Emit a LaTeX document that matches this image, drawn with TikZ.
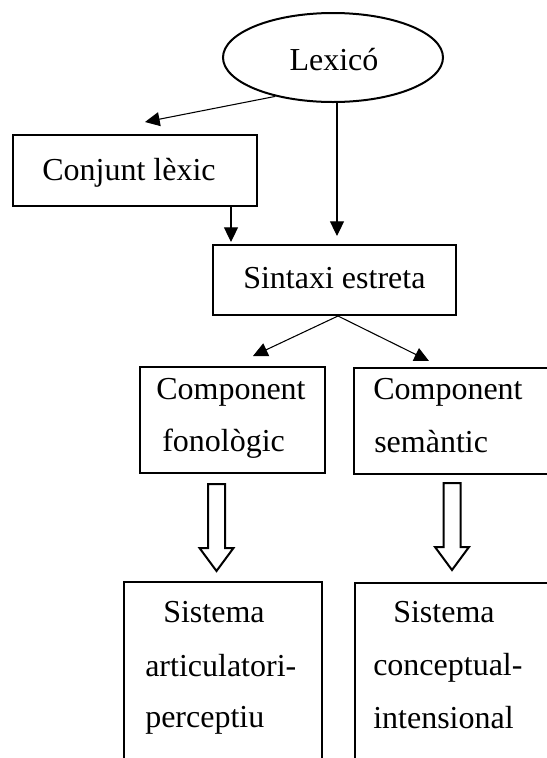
\documentclass[tikz,border=0pt]{standalone}
\usepackage{fontspec}
\setmainfont{Liberation Serif}
\usetikzlibrary{arrows.meta,calc,fit,shapes.geometric}

% hollow block arrow pointing down, #1 = centre of its top edge
\newcommand\hollowdown[1]{%
  \draw[blk] ($(#1)+(-8.5,0)$) -- ++(17,0) -- ++(0,64) -- ++(8.5,0)
    -- ++(-17,23) -- ++(-17,-23) -- ++(8.5,0) -- cycle;}

\tikzset{
  box/.style={draw, line width=1.5pt, rectangle, inner sep=0pt},
  oval/.style={draw, line width=1.5pt, ellipse, inner sep=0pt,
    minimum width=165pt, minimum height=66.75pt},
  txt/.style={inner sep=0pt, font=\fontsize{24}{28}\selectfont},
  conn/.style={line width=0.8pt, -{Triangle[length=11pt,width=10.5pt]}},
  blk/.style={line width=1.5pt, line join=miter, fill=white},
}

\begin{document}
\begin{tikzpicture}[x=0.75pt, y=-0.75pt]
  \useasboundingbox (0,0) rectangle (547,758);
  \clip (0,0) rectangle (547,758);

  % boxes
  \node[oval] (lex) at (333,57.5) {};
  \node[box, fit={(13,135) (257,206)}] (conj) {};
  \node[box, fit={(213,245) (456,315)}] (sint) {};
  \node[box, fit={(140,367) (325,473)}] (fon) {};
  \node[box, fit={(354,368) (620,474)}] (sem) {};
  \node[box, fit={(124,582) (322,820)}] (art) {};
  \node[box, fit={(355,583) (620,820)}] (con) {};

  % labels
  \node[txt, anchor=base] (lexT) at (334,70) {Lexicó};
  \node[txt, anchor=base west] (conjT) at (42,180) {Conjunt lèxic};
  \node[txt, anchor=base west] (sintT) at (243,288) {Sintaxi estreta};
  \node[txt, anchor=base west] (fonT1) at (156,399) {Component};
  \node[txt, anchor=base west] (fonT2) at (162,451) {fonològic};
  \node[txt, anchor=base west] (semT1) at (373,399) {Component};
  \node[txt, anchor=base west] (semT2) at (374,452) {semàntic};
  \node[txt, anchor=base west] (artT1) at (163,622) {Sistema};
  \node[txt, anchor=base west] (artT2) at (145,676) {articulatori-};
  \node[txt, anchor=base west] (artT3) at (145,727) {perceptiu};
  \node[txt, anchor=base west] (conT1) at (393,622) {Sistema};
  \node[txt, anchor=base west] (conT2) at (373,675) {conceptual-};
  \node[txt, anchor=base west] (conT3) at (373,728) {intensional};

  % connectors
  \draw[conn] (lex.214) -- ($(conj.north)+(10,-12)$);
  \coordinate (c1) at ($(conj.south east)+(-27,0)$);
  \draw[conn] (c1) -- ($(c1 |- sint.north)+(0,-2)$);
  \coordinate (c2) at ($(lex.south)+(4,0)$);
  \draw[conn] (c2) -- ($(c2 |- sint.north)+(0,-8)$);
  \coordinate (c3) at ($(sint.south)+(3.5,0)$);
  \draw[conn] (c3) -- ($(fon.north east)+(-73,-10)$);
  \draw[conn] (c3) -- ($(sem.north west)+(76,-6)$);

  % block arrows
  \coordinate (h1) at ($(fon.south east)+(-109.5,10)$);
  \coordinate (h2) at ($(sem.south west)+(99,8)$);
  \hollowdown{h1}
  \hollowdown{h2}
\end{tikzpicture}
\end{document}
